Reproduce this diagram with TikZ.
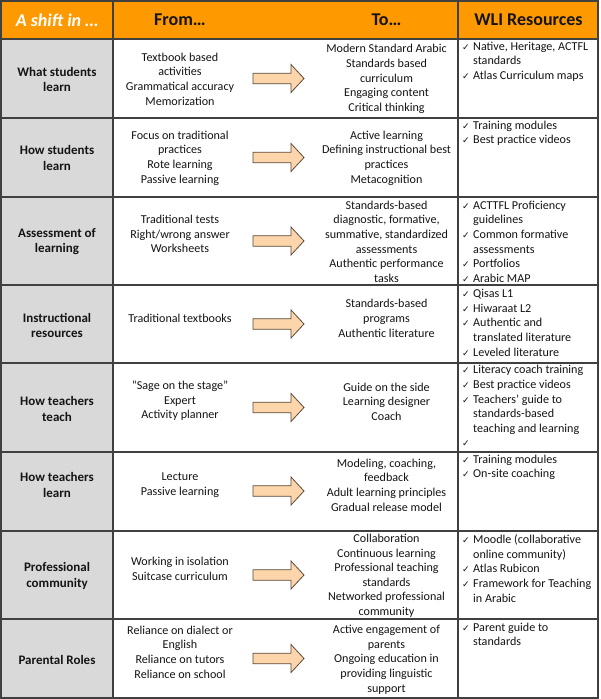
\documentclass[tikz,border=0pt]{standalone}
\usepackage{fontspec}
\setmainfont{Carlito}
\newfontfamily\symfont{DejaVu Sans}
\definecolor{hdrorange}{RGB}{255,153,0}
\definecolor{labgrey}{RGB}{217,217,217}
\definecolor{gridline}{RGB}{64,64,64}
\definecolor{arrowfill}{RGB}{252,213,170}
\definecolor{arrowline}{RGB}{90,75,60}
\definecolor{txt}{RGB}{20,20,20}
\newcommand{\chk}{\makebox[11pt][l]{\symfont\fontsize{9}{9}\selectfont ✓}}
\newcommand{\ind}{\hspace*{11pt}}
\begin{document}
\begin{tikzpicture}[x=1pt,y=-1pt,
  body/.style={font=\fontsize{12.1}{14.6}\selectfont, align=center, inner sep=0pt, text=txt},
  lab/.style={font=\fontsize{13}{15.6}\selectfont\bfseries, align=center, inner sep=0pt, text=txt},
  res/.style={font=\fontsize{12.1}{14.6}\selectfont, align=left, inner sep=0pt, text=txt, anchor=west},
  head/.style={font=\fontsize{18}{20}\selectfont\bfseries, inner sep=0pt, text=txt},
  grid/.style={draw=gridline, line width=1.2pt},
  shiftarrow/.pic={\draw[fill=arrowfill, draw=arrowline, line width=0.8pt, line join=miter]
      (-33.5,-5.3) -- (4.5,-5.3) -- (4.5,-14) -- (17.5,0) -- (4.5,14) -- (4.5,5.3) -- (-33.5,5.3) -- cycle;}
]
\useasboundingbox (0,0) rectangle (600,699);
\fill[white] (0,0) rectangle (600,699);
% header and label column fills
\fill[hdrorange] (1,1) rectangle (598,39);
\fill[labgrey] (1,39) rectangle (113,698);
% grid
\foreach \yy in {39,118,197,285,363,452,531,619}
  \draw[grid] (1,\yy) -- (598,\yy);
\draw[grid] (113,1) -- (113,698);
\draw[grid] (458,1) -- (458,698);
\draw[draw=gridline, line width=2pt] (1,1) rectangle (598,698);

% header
\node[head, text=white, font=\fontsize{18}{20}\selectfont\bfseries\itshape] (h0) at (57,20) {A shift in …};
\node[head] (h1) at (180,20) {From…};
\node[head] (h2) at (386.5,20) {To…};
\node[head] (h3) at (528.5,20) {WLI Resources};

% row labels
\node[lab] (l1) at (57,79.5) {What students\\learn};
\node[lab] (l2) at (57,158) {How students\\learn};
\node[lab] (l3) at (57,241.7) {Assessment of\\learning};
\node[lab] (l4) at (57,325.5) {Instructional\\resources};
\node[lab] (l5) at (57,408.7) {How teachers\\teach};
\node[lab] (l6) at (57,484.7) {How teachers\\learn};
\node[lab] (l7) at (57,575.8) {Professional\\community};
\node[lab] (l8) at (57,660) {Parental Roles};

% from
\node[body] (f1) at (180,79) {Textbook based\\activities\\Grammatical accuracy\\Memorization};
\node[body] (f2) at (180,158) {Focus on traditional\\practices\\Rote learning\\Passive learning};
\node[body] (f3) at (180,234) {Traditional tests\\Right/wrong answer\\Worksheets};
\node[body] (f4) at (180,318) {Traditional textbooks};
\node[body] (f5) at (180,401) {“Sage on the stage”\\Expert\\Activity planner};
\node[body] (f6) at (180,485) {Lecture\\Passive learning};
\node[body] (f7) at (180,568.7) {Working in isolation\\Suitcase curriculum};
\node[body] (f8) at (180,652) {Reliance on dialect or\\English\\Reliance on tutors\\Reliance on school};

% to
\node[body] (t1) at (386.5,79) {Modern Standard Arabic\\Standards based\\curriculum\\Engaging content\\Critical thinking};
\node[body] (t2) at (386.5,158) {Active learning\\Defining instructional best\\practices\\Metacognition};
\node[body] (t3) at (386.5,241.7) {Standards-based\\diagnostic, formative,\\summative, standardized\\assessments\\Authentic performance\\tasks};
\node[body] (t4) at (386.5,318.3) {Standards-based\\programs\\Authentic literature};
\node[body] (t5) at (386.5,401.7) {Guide on the side\\Learning designer\\Coach};
\node[body] (t6) at (386.5,485) {Modeling, coaching,\\feedback\\Adult learning principles\\Gradual release model};
\node[body] (t7) at (386.5,575.7) {Collaboration\\Continuous learning\\Professional teaching\\standards\\Networked professional\\community};
\node[body] (t8) at (386.5,659.7) {Active engagement of\\parents\\Ongoing education in\\providing linguistic\\support};

% arrows
\foreach \yy in {78.5,157.5,241,324,407.5,491,575,658.5}
  \pic at (286.5,\yy) {shiftarrow};

% resources
\node[res] (r1) at (462,61.7) {\chk Native, Heritage, ACTFL\\\ind standards\\\chk Atlas Curriculum maps};
\node[res] (r2) at (462,133.3) {\chk Training modules\\\chk Best practice videos};
\node[res] (r3) at (462,241.7) {\chk ACTTFL Proficiency\\\ind guidelines\\\chk Common formative\\\ind assessments\\\chk Portfolios\\\chk Arabic MAP};
\node[res] (r4) at (462,322.7) {\chk Qisas L1\\\chk Hiwaraat L2\\\chk Authentic and\\\ind translated literature\\\chk Leveled literature};
\node[res] (r5) at (462,408.3) {\chk Literacy coach training\\\chk Best practice videos\\\chk Teachers’ guide to\\\ind standards-based\\\ind teaching and learning\\\chk\strut};
\node[res] (r6) at (462,467.3) {\chk Training modules\\\chk On-site coaching};
\node[res] (r7) at (462,568.5) {\chk Moodle (collaborative\\\ind online community)\\\chk Atlas Rubicon\\\chk Framework for Teaching\\\ind in Arabic};
\node[res] (r8) at (462,634.5) {\chk Parent guide to\\\ind standards};
\end{tikzpicture}
\end{document}
